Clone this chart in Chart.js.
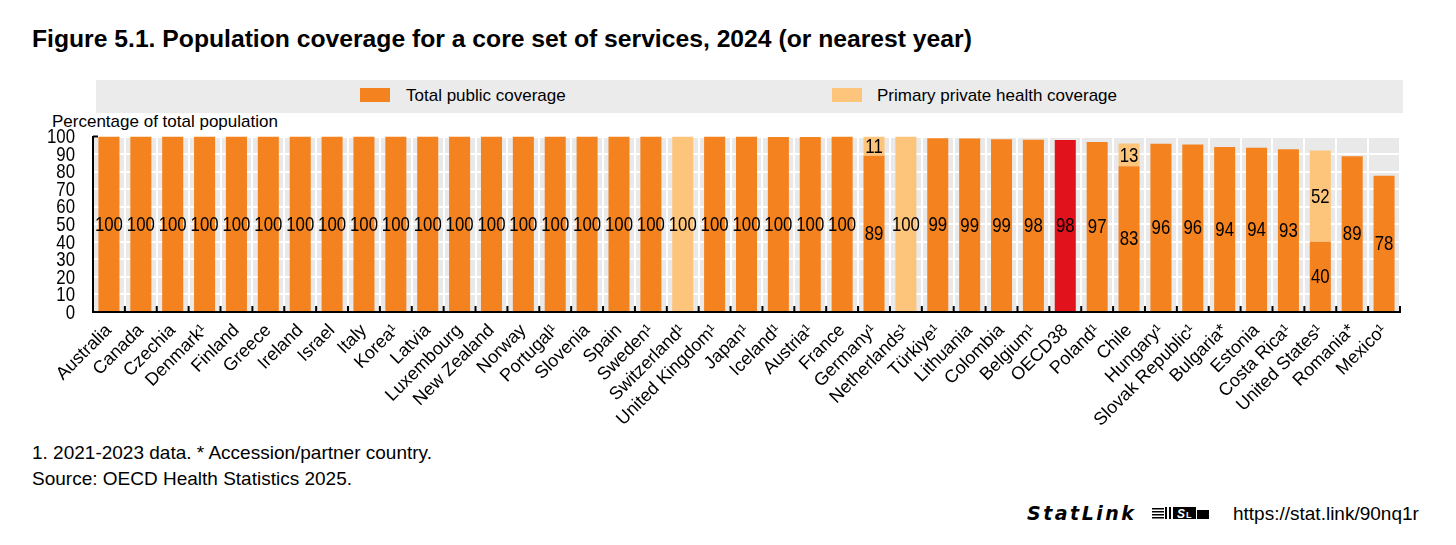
<!DOCTYPE html>
<html>
<head>
<meta charset="utf-8">
<script src="https://cdn.jsdelivr.net/npm/chart.js@4.4.1/dist/chart.umd.min.js"></script>
<style>
  html, body { margin: 0; padding: 0; background: #fff; }
  body { width: 1456px; height: 545px; position: relative; overflow: hidden;
         font-family: 'Liberation Sans', Arial, sans-serif; color: #000; }
  .txt { position: absolute; white-space: nowrap; }
  #title { left: 32px; top: 26px; font-size: 24.7px; line-height: 25px; font-weight: bold; }
  #legend { position: absolute; left: 96px; top: 80px; width: 1307px; height: 33px; background: #ebebeb; }
  .sw { position: absolute; top: 8px; width: 30px; height: 14px; }
  .lg { position: absolute; top: 7px; font-size: 17px; line-height: 17px; }
  #ytitle { left: 52px; top: 113px; font-size: 17px; line-height: 17px; }
  #chart { position: absolute; left: 0; top: 110px; }
  .note { left: 32px; font-size: 19px; line-height: 19px; }
  #statlink { left: 1027px; top: 504px; font-family: 'DejaVu Sans', sans-serif; font-weight: bold;
              font-style: italic; font-size: 19px; line-height: 19px; letter-spacing: 2.5px; }
  #logo { position: absolute; left: 1152px; top: 506px; }
  #url { left: 1233px; top: 504px; font-size: 19px; line-height: 19px; }
</style>
</head>
<body>
<div id="title" class="txt">Figure 5.1. Population coverage for a core set of services, 2024 (or nearest year)</div>
<div id="legend">
  <div class="sw" style="left:264px;background:#f4831f"></div>
  <div class="lg" style="left:310px">Total public coverage</div>
  <div class="sw" style="left:736px;background:#fdc57c"></div>
  <div class="lg" style="left:781px">Primary private health coverage</div>
</div>
<div id="ytitle" class="txt">Percentage of total population</div>
<canvas id="chart" width="1456" height="325"></canvas>
<div class="txt note" style="top:443px">1. 2021-2023 data. * Accession/partner country.</div>
<div class="txt note" style="top:469px">Source: OECD Health Statistics 2025.</div>
<div id="statlink" class="txt">StatLink</div>
<svg id="logo" width="58" height="14" viewBox="0 0 58 14">
  <g fill="#000">
    <rect x="0" y="2" width="12" height="1.5"/>
    <rect x="0" y="5" width="12" height="1.5"/>
    <rect x="0" y="8" width="12" height="1.5"/>
    <rect x="0" y="11" width="12" height="1.5"/>
    <rect x="13" y="1" width="2" height="12"/>
    <rect x="17" y="1" width="2" height="12"/>
    <path d="M21 1 H44 V13 H21 Z"/>
    <path d="M45 4 H57 V13 H45 Z"/>
  </g>
  <text x="25" y="12" font-family="Liberation Sans" font-weight="bold" font-style="italic" font-size="12" fill="#fff">S</text>
  <text x="34" y="12" font-family="Liberation Sans" font-weight="bold" font-size="9" fill="#fff">L</text>
</svg>
<div id="url" class="txt">https://stat.link/90nq1r</div>

<script>
const countries = ['Australia', 'Canada', 'Czechia', 'Denmark¹', 'Finland', 'Greece', 'Ireland', 'Israel',
  'Italy', 'Korea¹', 'Latvia', 'Luxembourg', 'New Zealand', 'Norway', 'Portugal¹', 'Slovenia', 'Spain',
  'Sweden¹', 'Switzerland¹', 'United Kingdom¹', 'Japan¹', 'Iceland¹', 'Austria¹', 'France', 'Germany¹',
  'Netherlands¹', 'Türkiye¹', 'Lithuania', 'Colombia', 'Belgium¹', 'OECD38', 'Poland¹', 'Chile',
  'Hungary¹', 'Slovak Republic¹', 'Bulgaria*', 'Estonia', 'Costa Rica¹', 'United States¹', 'Romania*',
  'Mexico¹'];

const publicCoverage = [100, 100, 100, 100, 100, 100, 100, 100,
  100, 100, 100, 100, 100, 100, 100, 100, 100,
  100, null, 100, 100, 99.7, 99.7, 100, 89,
  null, 99, 98.8, 98.5, 98.2, 98, 96.8, 83,
  95.8, 95.5, 94, 93.6, 92.8, 40, 88.8,
  77.6];

const privateCoverage = [null, null, null, null, null, null, null, null,
  null, null, null, null, null, null, null, null, null,
  null, 100, null, null, null, null, null, 11,
  100, null, null, null, null, null, null, 13,
  null, null, null, null, null, 52, null,
  null];

const yTicks = [0, 10, 20, 30, 40, 50, 60, 70, 80, 90, 100];

const ORANGE = '#f4831f';
const LIGHT = '#fdc57c';
const RED = '#e2121c';
const REGULAR = "'Liberation Sans', Arial, sans-serif";

// condensed text: Arial Narrow is not around, so squeeze Liberation Sans
function textoEstrecho(ctx, txt, x, y, align) {
  ctx.save();
  ctx.translate(x, y);
  ctx.scale(0.8, 1);
  ctx.textAlign = align;
  ctx.fillText(txt, 0, 0);
  ctx.restore();
}

// grey plot background
const fondo = {
  id: 'fondo',
  beforeDraw(chart) {
    const { ctx, chartArea: a } = chart;
    ctx.save();
    ctx.fillStyle = '#e9e9e9';
    ctx.fillRect(a.left, a.top, a.right - a.left, a.bottom - a.top);
    ctx.restore();
  }
};

// small ticks pointing up into the plot + narrow y labels
const marcas = {
  id: 'marcas',
  afterDatasetsDraw(chart) {
    const { ctx, chartArea: a } = chart;
    const x = chart.scales.x;
    const y = chart.scales.y;
    ctx.save();
    ctx.strokeStyle = '#000';
    ctx.lineWidth = 2;
    ctx.beginPath();
    for (let i = 1; i <= countries.length; i++) {
      const px = i < countries.length
        ? (x.getPixelForValue(i - 1) + x.getPixelForValue(i)) / 2
        : a.right;
      ctx.moveTo(px, a.bottom);
      ctx.lineTo(px, a.bottom - 6);
    }
    const top = y.getPixelForValue(yTicks[yTicks.length - 1]);
    ctx.moveTo(a.left, top);
    ctx.lineTo(a.left + 5, top);
    ctx.stroke();

    ctx.fillStyle = '#000';
    ctx.font = '21px ' + REGULAR;
    ctx.textBaseline = 'middle';
    yTicks.forEach(v => {
      textoEstrecho(ctx, String(v), a.left - 18, y.getPixelForValue(v) + 1, 'right');
    });
    ctx.restore();
  }
};

// value labels in the middle of each segment
const etiquetas = {
  id: 'etiquetas',
  afterDatasetsDraw(chart) {
    const { ctx } = chart;
    ctx.save();
    ctx.fillStyle = '#000';
    ctx.font = '21px ' + REGULAR;
    ctx.textBaseline = 'middle';
    chart.data.datasets.forEach((ds, di) => {
      chart.getDatasetMeta(di).data.forEach((bar, i) => {
        const v = ds.data[i];
        if (v == null) return;
        textoEstrecho(ctx, String(Math.round(v)), bar.x, (bar.y + bar.base) / 2 + 1, 'center');
      });
    });
    ctx.restore();
  }
};

const ctx = document.getElementById('chart').getContext('2d');
new Chart(ctx, {
  type: 'bar',
  data: {
    labels: countries,
    datasets: [{
      label: 'Total public coverage',
      data: publicCoverage,
      backgroundColor: countries.map(c => c === 'OECD38' ? RED : ORANGE),
      barPercentage: 0.66,
      categoryPercentage: 1
    }, {
      label: 'Primary private health coverage',
      data: privateCoverage,
      backgroundColor: LIGHT,
      barPercentage: 0.66,
      categoryPercentage: 1
    }]
  },
  options: {
    responsive: false,
    animation: false,
    layout: { padding: { left: 0, top: 12, right: 56, bottom: 0 } },
    plugins: {
      legend: { display: false },
      tooltip: { enabled: false }
    },
    scales: {
      x: {
        stacked: true,
        grid: { color: '#fff', lineWidth: 2, offset: true, drawTicks: false },
        border: { color: '#000', width: 2 },
        ticks: {
          autoSkip: false,
          minRotation: 45,
          maxRotation: 45,
          padding: 8,
          color: '#000',
          font: { family: REGULAR, size: 18 }
        },
        afterFit(scale) { scale.height = 123; }
      },
      y: {
        stacked: true,
        min: yTicks[0],
        max: yTicks[yTicks.length - 1],
        afterBuildTicks(scale) { scale.ticks = yTicks.map(v => ({ value: v })); },
        grid: { color: '#fff', lineWidth: 2, drawTicks: false },
        border: { color: '#000', width: 2 },
        ticks: {
          autoSkip: false,
          padding: 18,
          color: 'rgba(0,0,0,0)',
          font: { family: REGULAR, size: 20, lineHeight: 0.85 }
        },
        afterFit(scale) { scale.width = 93; }
      }
    }
  },
  plugins: [fondo, marcas, etiquetas]
});
</script>
</body>
</html>
